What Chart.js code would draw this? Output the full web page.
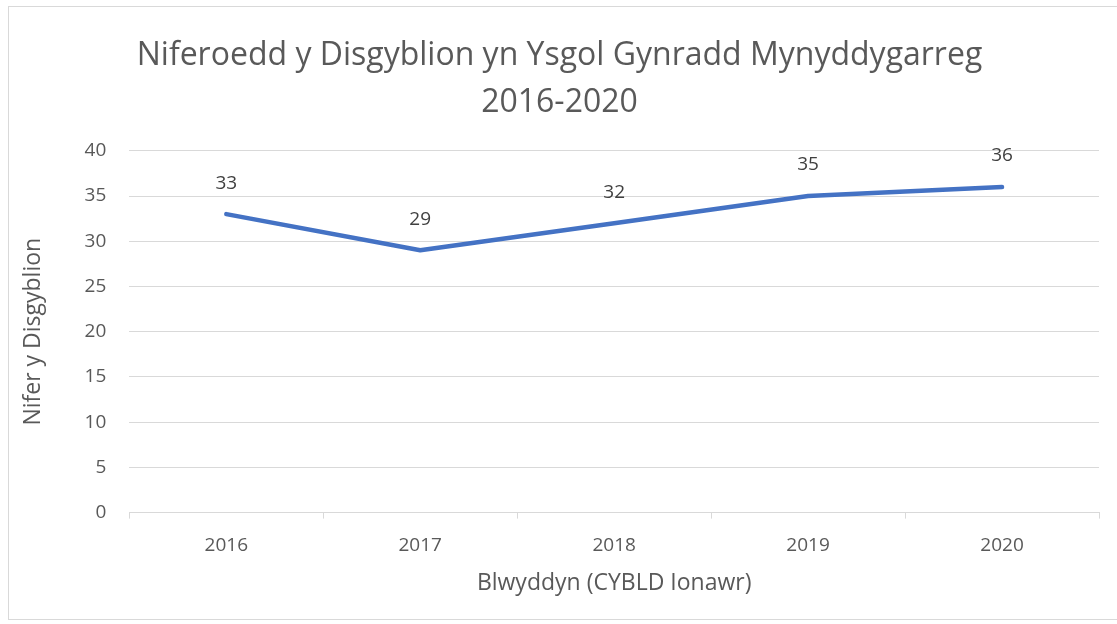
<!DOCTYPE html>
<html>
<head>
<meta charset="utf-8">
<script src="https://cdn.jsdelivr.net/npm/chart.js@4.4.0/dist/chart.umd.min.js"></script>
<style>
    body { margin: 0; background: #fff; }
    #box {
        position: absolute; left: 8px; top: 6px;
        width: 1112px; height: 614px;
        border: 1px solid #d9d9d9; box-sizing: border-box;
    }
    canvas { display: block; }
</style>
</head>
<body>
<div id="box"><canvas id="chart" width="1110" height="612"></canvas></div>
<script>
// Chart data
const years = ['2016', '2017', '2018', '2019', '2020'];
const pupils = [33, 29, 32, 35, 36];
const titleLines = ['Niferoedd y Disgyblion yn Ysgol Gynradd Mynyddygarreg', '2016-2020'];

const textGrey = '#595959';
const gridGrey = '#d9d9d9';
const fontFamily = '"Open Sans", "Noto Sans", sans-serif';

// Draws the value above each point (like Excel data labels)
const pointLabels = {
    id: 'pointLabels',
    afterDatasetsDraw(chart) {
        const ctx = chart.ctx;
        const meta = chart.getDatasetMeta(0);
        ctx.save();
        ctx.font = '19px ' + fontFamily;
        ctx.fillStyle = '#404040';
        ctx.textAlign = 'center';
        ctx.textBaseline = 'middle';
        meta.data.forEach((pt, i) => {
            ctx.fillText(chart.data.datasets[0].data[i], pt.x, pt.y - 31);
        });
        ctx.restore();
    }
};

new Chart(document.getElementById('chart'), {
    type: 'line',
    data: {
        labels: years,
        datasets: [{
            data: pupils,
            borderColor: '#4472C4',
            borderWidth: 4.5,
            borderCapStyle: 'round',
            borderJoinStyle: 'round',
            pointRadius: 0,
            tension: 0,
            fill: false
        }]
    },
    options: {
        responsive: false,
        animation: false,
        layout: {
            padding: { left: 11, right: 20, top: 0, bottom: 22 }
        },
        plugins: {
            legend: { display: false },
            tooltip: { enabled: false },
            title: {
                display: true,
                text: titleLines,
                color: textGrey,
                font: { size: 32, family: fontFamily, weight: 'normal', lineHeight: 1.45 },
                padding: { top: 26, bottom: 25 }
            }
        },
        scales: {
            x: {
                offset: true,
                grid: {
                    offset: true,
                    drawOnChartArea: false,
                    drawTicks: true,
                    tickLength: 6,
                    color: gridGrey
                },
                border: { display: true, color: gridGrey, width: 1 },
                ticks: {
                    color: textGrey,
                    font: { size: 19, family: fontFamily },
                    padding: 16
                },
                title: {
                    display: true,
                    text: 'Blwyddyn (CYBLD Ionawr)',
                    color: textGrey,
                    font: { size: 23, family: fontFamily },
                    padding: { top: -4, bottom: 0 }
                }
            },
            y: {
                min: 0,
                max: 40,
                ticks: {
                    stepSize: 5,
                    color: textGrey,
                    font: { size: 19, family: fontFamily },
                    padding: 23
                },
                grid: {
                    color: gridGrey,
                    drawTicks: false
                },
                border: { display: false },
                title: {
                    display: true,
                    text: 'Nifer y Disgyblion',
                    color: textGrey,
                    font: { size: 23, family: fontFamily },
                    padding: { top: 0, bottom: 14 }
                }
            }
        }
    },
    plugins: [pointLabels]
});
</script>
</body>
</html>
